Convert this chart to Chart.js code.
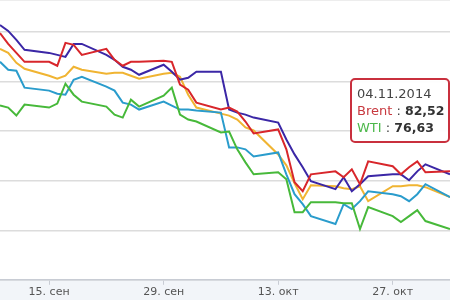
<!DOCTYPE html>
<html>
<head>
<meta charset="utf-8">
<script src="https://cdn.jsdelivr.net/npm/chart.js"></script>
<style>
  body { margin: 0; background: #fff; }
  #wrap { position: relative; width: 450px; height: 300px; overflow: hidden; }
  #tip {
    position: absolute; left: 350px; top: 78px; width: 100px; height: 65px;
    box-sizing: border-box; border: 2px solid #c9303e; border-radius: 5px;
    background: rgba(255,255,255,0.92); padding: 5px 0 0 5px;
    font: 13px "DejaVu Sans", sans-serif; line-height: 17px; color: #444; white-space: nowrap;
  }
  #tip b { color: #333; font-size: 12.5px; }
</style>
</head>
<body>
<div id="wrap">
  <canvas id="myChart" width="450" height="300"></canvas>
  <div id="tip">
    <div>04.11.2014</div>
    <div><span style="color:#c8393f">Brent</span> : <b>82,52</b></div>
    <div><span style="color:#4cb84a">WTI</span> : <b>76,63</b></div>
  </div>
</div>
<script>
// trading days, counted from 1 Sep 2014 (Oct = 30 + d, Nov = 61 + d)
const days = [9,10,11,12,15,16,17,18,19,22,23,24,25,26,29,30,31,32,33,36,37,38,39,40,43,44,45,46,47,50,51,52,53,54,57,58,59,60,61,64];

const brent = [99.92,98.82,97.91,97.01, 97.01,96.61,98.92,98.72,97.71, 98.32,97.21,96.61,97.01,97.01,
  97.11,97.01,94.70,94.20,92.89, 92.19,92.39,91.98,90.98,89.77, 90.18,88.17,84.85,83.94,85.65,
  85.95,85.35,86.16,84.65,86.96, 86.46,85.65,86.36,86.96,85.85, 85.95];
const wti = [92.59,92.39,91.58,92.69, 92.39,92.79,94.80,93.69,92.99, 92.49,91.68,91.38,93.19,92.49,
  93.59,94.40,91.68,91.18,90.98, 89.87,89.97,88.17,86.86,85.65, 85.85,85.15,81.83,81.83,82.84,
  82.84,82.74,82.74,80.13,82.34, 81.43,80.83,81.43,82.04,80.93, 80.13];
const series3 = [100.73,100.13,99.22,98.22, 97.91,97.71,97.51,98.82,98.82, 97.71,97.21,96.51,96.21,95.70,
  96.71,96.01,95.20,95.40,96.01, 96.01,92.19,91.88,91.68,91.38, 90.88,89.17,87.66,86.36,84.95,
  84.15,85.35,83.94,84.65,85.45, 85.65,85.65,85.05,85.95,86.66, 85.65];
const series4 = [98.32,97.91,96.91,96.31, 95.60,95.30,95.60,96.51,96.21, 95.80,95.90,95.90,95.60,95.30,
  95.80,95.90,95.50,93.69,92.39, 91.78,91.58,91.18,90.38,90.08, 87.66,86.56,84.75,83.14,84.55,
  84.45,84.25,84.15,84.45,82.94, 84.45,84.45,84.55,84.55,84.35, 83.34];
const series5 = [97.01,96.21,96.11,94.40, 94.10,93.79,93.69,95.20,95.50, 94.50,94.10,92.89,92.69,92.19,
  92.99,92.59,92.19,92.19,92.09, 91.88,88.37,88.37,88.17,87.46, 87.86,85.65,83.64,82.64,81.43,
  80.63,82.64,82.14,82.94,83.94, 83.64,83.44,82.94,83.64,84.65, 83.34];

const tickDays = [15, 29, 43, 57];
const tickLabels = ['15. сен', '29. сен', '13. окт', '27. окт'];

function toPoints(values) {
    return values.map((v, i) => ({ x: days[i], y: v }));
}

function line(label, values, color) {
    return {
        label: label,
        data: toPoints(values),
        borderColor: color,
        backgroundColor: color,
        borderWidth: 2,
        pointRadius: 0,
        tension: 0,
        fill: false
    };
}

// light band under the x axis
const bottomBand = {
    id: 'bottomBand',
    beforeDraw(chart) {
        const c = chart.ctx;
        c.save();
        c.fillStyle = '#f2f5f9';
        c.fillRect(0, chart.chartArea.bottom, chart.width, chart.height - chart.chartArea.bottom);
        c.restore();
    }
};

const ctx = document.getElementById('myChart');

const myChart = new Chart(ctx, {
    type: 'line',
    data: {
        datasets: [
            line('Brent', brent, '#d8262b'),
            line('Серия 3', series3, '#3b27a6'),
            line('WTI', wti, '#47b93a'),
            line('Серия 5', series5, '#2a9ccc'),
            line('Серия 4', series4, '#f0b432')
        ]
    },
    options: {
        responsive: false,
        animation: false,
        layout: { padding: 0 },
        plugins: {
            legend: { display: false },
            tooltip: { enabled: false }
        },
        scales: {
            x: {
                type: 'linear',
                min: 9,
                max: 64,
                afterBuildTicks: (axis) => {
                    axis.ticks = tickDays.map(v => ({ value: v }));
                },
                ticks: {
                    padding: 1,
                    maxRotation: 0,
                    color: '#555',
                    font: { family: 'DejaVu Sans', size: 11 },
                    callback: function(value) {
                        return tickLabels[tickDays.indexOf(value)];
                    }
                },
                grid: {
                    drawOnChartArea: false,
                    drawTicks: true,
                    tickLength: 5,
                    color: '#c8ccd4'
                },
                border: { color: '#c8ccd4', width: 1.5 }
            },
            y: {
                min: 75,
                max: 103.25,
                ticks: { stepSize: 5, display: false },
                grid: { color: '#dcdcdc', lineWidth: 1.5, drawTicks: false },
                border: { display: false }
            }
        }
    },
    plugins: [bottomBand]
});
</script>
</body>
</html>
